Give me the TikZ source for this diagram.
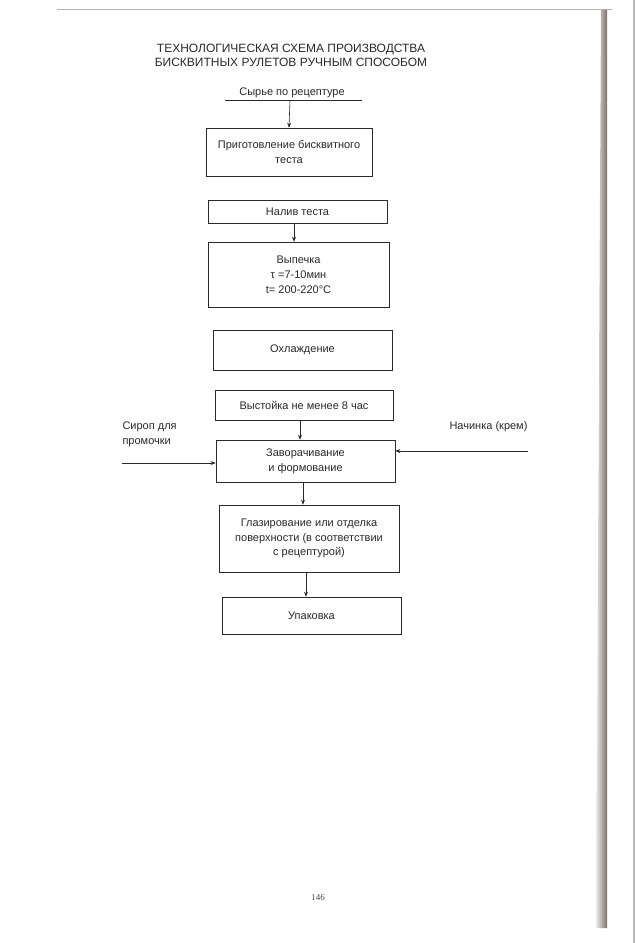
\documentclass[tikz,border=0pt]{standalone}
\usepackage{fontspec}
\setmainfont{Liberation Sans}
\newfontfamily\pagefont{Liberation Serif}
\usetikzlibrary{arrows.meta}
\definecolor{ink}{HTML}{2A2A2A}
\definecolor{shadow}{HTML}{7A7068}
\begin{document}
\begin{tikzpicture}[x=1pt,y=-1pt,
  every node/.style={text=ink,font=\fontsize{11}{14.8}\selectfont},
  stepbox/.style={draw=ink,line width=0.6pt,rectangle,align=center,inner sep=2pt},
  arr/.style={draw=ink,line width=0.6pt,-{Stealth[length=5pt,width=4pt]}},
  ln/.style={draw=ink,line width=0.6pt}]
\useasboundingbox (0,0) rectangle (636,943);
\fill[white] (0,0) rectangle (636,943);
% scan artifacts
\draw[gray!60,line width=0.8pt] (57,9) -- (612,9);
\shade[left color=gray!15,right color=shadow] (601,10) -- (607,10) -- (607,928) -- (596,928) -- cycle;
\draw[gray!55,line width=1.2pt] (634,0) -- (634,943);
% title
\node[font=\fontsize{12}{14}\selectfont,align=center] (title) at (291,55)
  {ТЕХНОЛОГИЧЕСКАЯ СХЕМА ПРОИЗВОДСТВА\\БИСКВИТНЫХ РУЛЕТОВ РУЧНЫМ СПОСОБОМ};
% source
\node (src) at (292,93) {Сырье по рецептуре};
\coordinate (srcL) at (225,100);
\coordinate (srcR) at (362,100);
\coordinate (s) at (290,100);
\draw[ln] (srcL) -- (srcR);
% boxes
\node[stepbox,minimum width=166,minimum height=48] (b1) at (289,152) {Приготовление бисквитного\\теста};
\node[stepbox,minimum width=179,minimum height=23] (b2) at (297.5,211.5) {Налив теста};
\node[stepbox,minimum width=181,minimum height=65] (b3) at (298.5,274.5) {Выпечка\\τ =7-10мин\\t= 200-220°С};
\node[stepbox,minimum width=179,minimum height=40] (b4) at (302.5,350) {Охлаждение};
\node[stepbox,minimum width=178,minimum height=30] (b5) at (304,405) {Выстойка не менее 8 час};
\node[stepbox,minimum width=179,minimum height=42] (b6) at (305.5,461) {Заворачивание\\и формование};
\node[stepbox,minimum width=180,minimum height=67] (b7) at (309,538.5) {Глазирование или отделка\\поверхности (в соответствии\\с рецептурой)};
\node[stepbox,minimum width=179,minimum height=37] (b8) at (311.5,615.5) {Упаковка};
% side inputs
\node[align=left,anchor=west] (syr) at (119,434) {Сироп для\\промочки};
\node[anchor=east] (nach) at (531,427) {Начинка (крем)};
\coordinate (lin) at (122,463);
\coordinate (rin) at (528,451);
% arrows
\draw[arr] (s) -- (b1.north);
\draw[arr] ([xshift=-3.5pt]b2.south) -- ([xshift=-4.5pt]b3.north);
\draw[arr] ([xshift=-4pt]b5.south) -- ([xshift=-5.5pt]b6.north);
\draw[arr] ([xshift=-2.5pt]b6.south) -- ([xshift=-6pt]b7.north);
\draw[arr] ([xshift=-3pt]b7.south) -- ([xshift=-5.5pt]b8.north);
\draw[arr] (lin) -- (lin -| b6.west);
\draw[arr] (rin) -- (rin -| b6.east);
% page number
\node[font=\pagefont\fontsize{9}{11}\selectfont,text=black!70] (pg) at (318,898) {146};
\end{tikzpicture}
\end{document}
